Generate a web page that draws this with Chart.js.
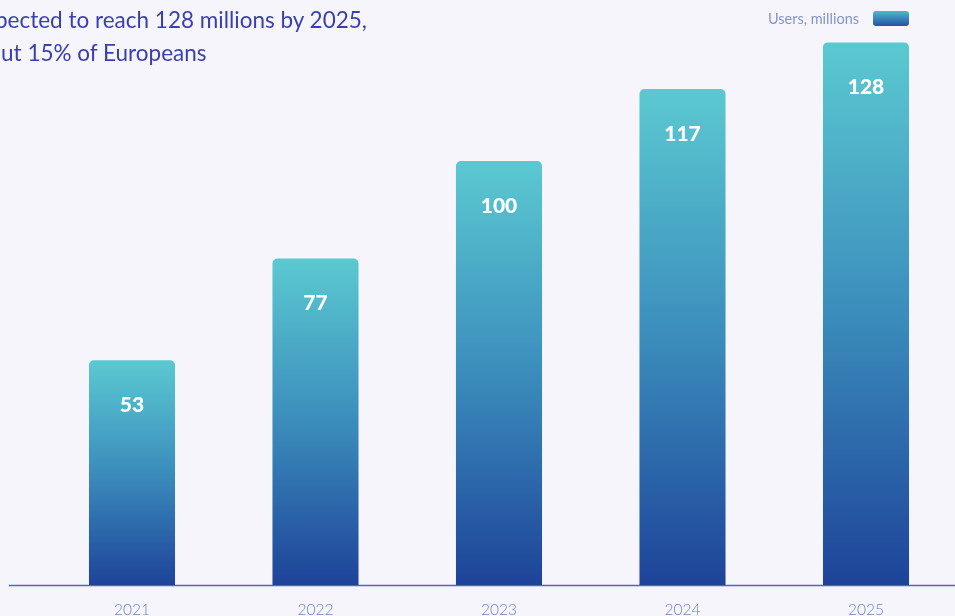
<!DOCTYPE html>
<html>
<head>
<meta charset="utf-8">
<script src="https://cdn.jsdelivr.net/npm/chart.js@4.4.1/dist/chart.umd.min.js"></script>
<style>
  html, body { margin: 0; padding: 0; background: #f5f5fb; overflow: hidden; }
  #wrap { position: relative; width: 955px; height: 616px; overflow: hidden; background: #f5f5fb; }
  #c { position: absolute; left: 0; top: 0; }
  .tline { position: absolute; font-family: Lato, "Noto Sans", sans-serif;
           font-size: 22.5px; line-height: 28px; color: #3a3fb0; white-space: nowrap; }
  #legend { position: absolute; right: 46px; top: 10px; display: flex; align-items: center;
            font-family: Lato, "Noto Sans", sans-serif; font-size: 14.5px; color: #8593cf; }
  #legend .box { width: 36px; height: 15px; border-radius: 3px; margin-left: 14px;
                 background: linear-gradient(#4fb8d0, #2452a3); }
</style>
</head>
<body>
<div id="wrap">
  <canvas id="c" width="1000" height="640"></canvas>
  <div class="tline" id="t1" style="top:6px">expected to reach 128 millions by 2025,</div>
  <div class="tline" id="t2" style="top:39px">about 15% of Europeans</div>
  <div id="legend"><span>Users, millions</span><span class="box"></span></div>
</div>
<script>
const categories = ["2021", "2022", "2023", "2024", "2025"];
const users = [53, 77, 100, 117, 128];
const seriesName = "Users, millions";

// Title lines are cropped on the left like in the reference
(function () {
  const m = document.createElement('canvas').getContext('2d');
  m.font = '22.5px Lato, "Noto Sans", sans-serif';
  const w = (s) => m.measureText(s).width;
  document.getElementById('t1').style.left = (-(w('ex') + w('p') * 0.4)) + 'px';
  document.getElementById('t2').style.left = (-w('abo') + 1) + 'px';
})();

const axisLine = {
  id: 'axisLine',
  beforeDatasetsDraw(chart) {
    const c = chart.ctx;
    const y = chart.scales.y.getPixelForValue(0);
    c.save();
    c.strokeStyle = '#5466ba';
    c.lineWidth = 1.5;
    c.beginPath();
    c.moveTo(9, y + 0.5);
    c.lineTo(chart.width, y + 0.5);
    c.stroke();
    c.restore();
  }
};

const barLabels = {
  id: 'barLabels',
  afterDatasetsDraw(chart) {
    const c = chart.ctx;
    const meta = chart.getDatasetMeta(0);
    c.save();
    c.fillStyle = '#ffffff';
    c.font = '900 21px Lato, "Noto Sans", sans-serif';
    c.textAlign = 'center';
    c.textBaseline = 'middle';
    meta.data.forEach((bar, i) => {
      c.fillText(String(users[i]), bar.x, bar.y + 45);
    });
    c.restore();
  }
};

new Chart(document.getElementById('c'), {
  type: 'bar',
  data: {
    labels: categories,
    datasets: [{
      label: seriesName,
      data: users,
      backgroundColor: (ctx) => {
        const chart = ctx.chart;
        if (!chart.chartArea || ctx.type !== 'data') return '#3a8ab8';
        const ys = chart.scales.y;
        const top = ys.getPixelForValue(ctx.raw);
        const bottom = ys.getPixelForValue(0);
        const g = chart.ctx.createLinearGradient(0, top, 0, bottom);
        g.addColorStop(0, '#5bc9d1');
        g.addColorStop(0.5, '#3b8dbc');
        g.addColorStop(1, '#1e4399');
        return g;
      },
      borderWidth: 0,
      borderRadius: 5,
      categoryPercentage: 1,
      barPercentage: 0.469
    }]
  },
  options: {
    responsive: false,
    animation: false,
    layout: { padding: { left: 40.25, right: 42.25, top: 0, bottom: 0 } },
    plugins: { legend: { display: false }, tooltip: { enabled: false }, title: { display: false } },
    scales: {
      x: {
        grid: { display: false, drawTicks: false },
        border: { display: false },
        ticks: { color: '#6f7fc6', font: { family: 'Lato, "Noto Sans", sans-serif', size: 15.5, weight: '300' }, padding: 16 },
        afterFit: (s) => { s.height = 55; }
      },
      y: { display: false, min: 0, max: 138 }
    }
  },
  plugins: [axisLine, barLabels]
});
</script>
</body>
</html>
